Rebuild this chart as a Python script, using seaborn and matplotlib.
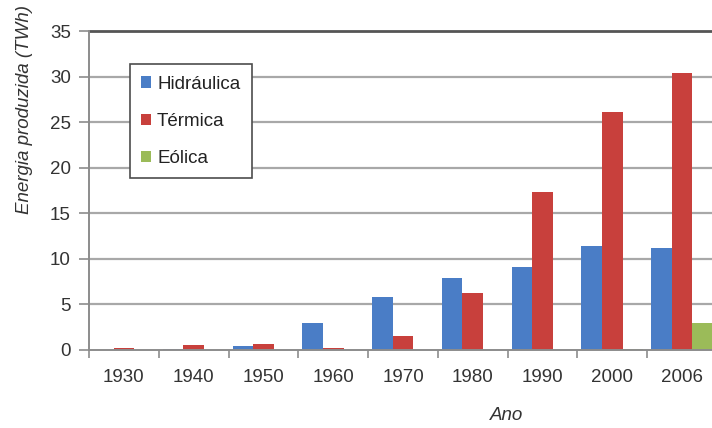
import matplotlib
matplotlib.use("Agg")
import matplotlib.pyplot as plt
import seaborn as sns
import pandas as pd
import numpy as np

# Electricity production by source (TWh)
anos = ["1930", "1940", "1950", "1960", "1970", "1980", "1990", "2000", "2006"]
hidraulica = [0.05, 0.1, 0.4, 3.0, 5.8, 7.9, 9.1, 11.4, 11.2]
termica = [0.25, 0.5, 0.65, 0.25, 1.55, 6.2, 17.3, 26.1, 30.4]
eolica = [0.0, 0.0, 0.0, 0.0, 0.0, 0.0, 0.0, 0.15, 3.0]
fontes = ["Hidráulica", "Térmica", "Eólica"]
cores = ["#4A7DC6", "#C8403C", "#9BBB59"]
y_ticks = [0, 5, 10, 15, 20, 25, 30, 35]

df = pd.DataFrame({
    "Ano": anos * 3,
    "Fonte": [f for f in fontes for _ in anos],
    "Energia": hidraulica + termica + eolica,
})

sns.set_theme(style="white")
plt.rcParams["font.family"] = ["Liberation Sans", "DejaVu Sans"]

fig = plt.figure(figsize=(7.12, 4.28), dpi=100)
ax = fig.add_axes([89 / 712, 1 - 350 / 428, 628 / 712, 319 / 428])

sns.barplot(data=df, x="Ano", y="Energia", hue="Fonte", hue_order=fontes,
            palette=cores, width=0.885, gap=0, saturation=1, ax=ax,
            edgecolor="none", linewidth=0, legend=True)

ax.set_xlim(-0.5, len(anos) - 0.5)
ax.set_ylim(0, 35)
ax.set_yticks(y_ticks)
ax.set_yticklabels([str(v) for v in y_ticks])

# horizontal gridlines
for v in y_ticks[1:-1]:
    ax.axhline(v, color="#A8A8A8", lw=1.6, zorder=0)
ax.axhline(35, color="#555555", lw=2.0, zorder=0, clip_on=False)
ax.set_axisbelow(True)

for s in ["top", "right"]:
    ax.spines[s].set_visible(False)
ax.spines["left"].set_color("#8C8C8C")
ax.spines["left"].set_linewidth(1.4)
ax.spines["bottom"].set_color("#8C8C8C")
ax.spines["bottom"].set_linewidth(1.4)

# category boundaries as x ticks
ax.set_xticks(np.arange(len(anos) + 1) - 0.5, minor=True)
ax.tick_params(axis="x", which="minor", length=6, width=1.2, color="#8C8C8C",
               direction="out", bottom=True)
ax.tick_params(axis="x", which="major", length=0, pad=14, labelsize=13.5,
               labelcolor="#333333")
ax.tick_params(axis="y", which="major", length=7, width=1.2, color="#8C8C8C",
               direction="out", left=True, pad=6, labelsize=13.5,
               labelcolor="#333333")

ax.set_xlabel("")
ax.set_ylabel("")
fig.text(507 / 712, 1 - 415 / 428, "Ano", ha="center", va="center",
         fontsize=13.5, style="italic", color="#333333")
fig.text(25 / 712, 1 - 109 / 428, "Energia produzida (TWh)", ha="center",
         va="center", rotation=90, fontsize=13.5, style="italic",
         color="#333333")

leg = ax.legend(loc="upper left", bbox_to_anchor=(0.065, 0.895),
                borderaxespad=0, fontsize=13.5, handlelength=0.55,
                handleheight=0.55, handletextpad=0.3, labelspacing=1.08,
                borderpad=0.6, fancybox=False, frameon=True, framealpha=1)
leg.get_frame().set_edgecolor("#4D4D4D")
leg.get_frame().set_linewidth(1.2)
for t in leg.get_texts():
    t.set_color("#222222")

fig.savefig("out.png", dpi=100)
